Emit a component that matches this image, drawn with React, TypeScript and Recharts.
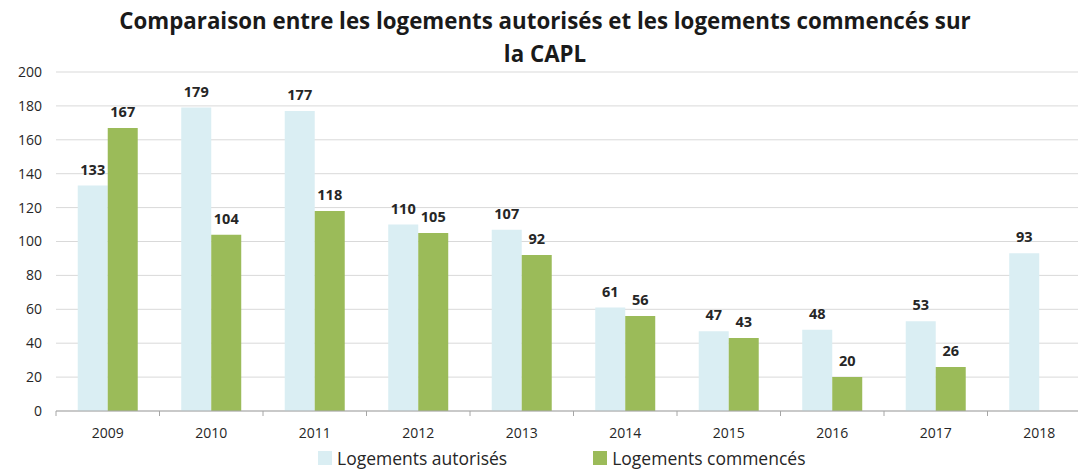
import { BarChart, Bar, XAxis, YAxis, CartesianGrid, LabelList } from "recharts";

const years = ["2009", "2010", "2011", "2012", "2013", "2014", "2015", "2016", "2017", "2018"];
const autorises = [133, 179, 177, 110, 107, 61, 47, 48, 53, 93];
const commences: (number | null)[] = [167, 104, 118, 105, 92, 56, 43, 20, 26, null];
const yTicks = [0, 20, 40, 60, 80, 100, 120, 140, 160, 180, 200];

const data = years.map((year, i) => ({ year, autorises: autorises[i], commences: commences[i] }));

const FONT = "'Open Sans', 'Liberation Sans', sans-serif";
const BLUE = "#DAEEF3";
const GREEN = "#9BBB59";
const AXIS = "#A6A6A6";

const CHART_W = 1100;
const LEFT = 56;
const RIGHT = 9;
const BAND = (CHART_W - LEFT - RIGHT) / years.length;

const YearTick = (props: any) => {
  const { x, y, payload, index } = props;
  const axisY = y - 17;
  return (
    <g>
      <line x1={x - BAND / 2} x2={x - BAND / 2} y1={axisY} y2={axisY + 5} stroke={AXIS} />
      {index === years.length - 1 && (
        <line x1={x + BAND / 2} x2={x + BAND / 2} y1={axisY} y2={axisY + 5} stroke={AXIS} />
      )}
      <text x={x} y={y} dy="0.71em" textAnchor="middle" fontSize={14} fill="#262626" fontFamily={FONT}>
        {payload.value}
      </text>
    </g>
  );
};

const ValueLabel = (props: any) => {
  const { x, y, width, value } = props;
  if (value == null) return null;
  return (
    <text x={x + width / 2} y={y - 11} textAnchor="middle" fontSize={14.5} fontWeight="bold" fill="#262626" fontFamily={FONT}>
      {value}
    </text>
  );
};

export default function App() {
  return (
    <div style={{ position: "absolute", left: 0, top: 0, width: 1078, height: 470, overflow: "hidden", background: "#fff", fontFamily: FONT }}>
      <div style={{ position: "absolute", left: 0, top: 4, width: 1078, textAlign: "center", fontSize: 22.3, fontWeight: "bold", lineHeight: "33px", color: "#1a1a1a", paddingLeft: 12, boxSizing: "border-box" }}>
        Comparaison entre les logements autorisés et les logements commencés sur
        <br />
        la CAPL
      </div>
      <BarChart
        width={CHART_W}
        height={470}
        data={data}
        margin={{ top: 72, right: RIGHT, bottom: 29, left: 0 }}
        barCategoryGap="21%"
        barGap={0}
      >
        <CartesianGrid vertical={false} stroke="#D9D9D9" />
        <XAxis
          dataKey="year"
          height={30}
          axisLine={{ stroke: AXIS }}
          tickLine={false}
          tickSize={6}
          tickMargin={11}
          tick={<YearTick />}
          interval={0}
        />
        <YAxis
          width={LEFT}
          domain={[0, 200]}
          ticks={yTicks}
          interval={0}
          axisLine={false}
          tickLine={false}
          tickSize={6}
          tickMargin={8}
          tick={{ fontSize: 14, fill: "#262626", fontFamily: FONT }}
        />
        <Bar dataKey="autorises" name="Logements autorisés" fill={BLUE} isAnimationActive={false}>
          <LabelList dataKey="autorises" content={<ValueLabel />} />
        </Bar>
        <Bar dataKey="commences" name="Logements commencés" fill={GREEN} isAnimationActive={false}>
          <LabelList dataKey="commences" content={<ValueLabel />} />
        </Bar>
      </BarChart>
      <div style={{ position: "absolute", top: 446, left: 318, display: "flex", alignItems: "center", fontSize: 17.5, color: "#262626" }}>
        <span style={{ width: 14, height: 14, background: BLUE, display: "inline-block", marginRight: 5 }} />
        <span>Logements autorisés</span>
        <span style={{ width: 14, height: 14, background: GREEN, display: "inline-block", marginLeft: 86, marginRight: 5 }} />
        <span>Logements commencés</span>
      </div>
    </div>
  );
}
